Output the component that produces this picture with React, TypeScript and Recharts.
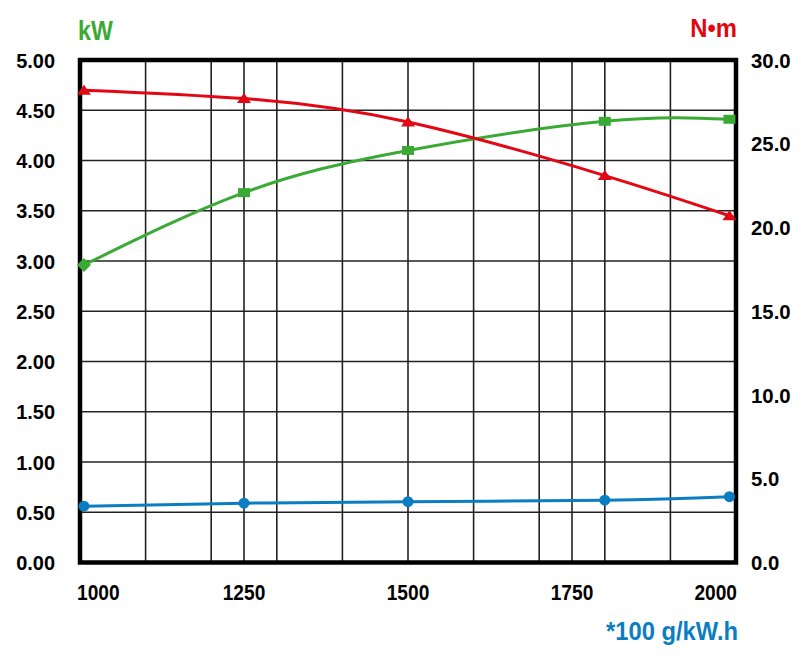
import React from "react";
import {
  LineChart,
  Line,
  XAxis,
  YAxis,
  CartesianGrid,
  ReferenceArea,
} from "recharts";

// ---- data ----
const rpm = [1006, 1250, 1500, 1800, 1990];
const powerKw = [2.96, 3.68, 4.1, 4.39, 4.41];
const torqueNm = [28.2, 27.7, 26.3, 23.1, 20.7];
const fuelConsumption = [0.56, 0.59, 0.605, 0.62, 0.655];

const xGridTicks = [1000, 1100, 1200, 1250, 1300, 1400, 1500, 1600, 1700, 1750, 1800, 1900, 2000];
const xLabelTicks = [1000, 1250, 1500, 1750, 2000];
const leftTicks = [0, 0.5, 1, 1.5, 2, 2.5, 3, 3.5, 4, 4.5, 5];
const rightTicks = [0, 5, 10, 15, 20, 25, 30];

const titleKw = "kW";
const titleNm = "N•m";
const titleFuel = "*100 g/kW.h";

const data = rpm.map((r, i) => ({
  rpm: r,
  power: powerKw[i],
  torque: torqueNm[i],
  fuel: fuelConsumption[i],
}));

const GREEN = "#3AAA35";
const RED = "#E30613";
const BLUE = "#0B7DC2";
const FONT = "'Liberation Sans', Arial, sans-serif";

const W = 790;
const H = 640;

type Anchor = "start" | "middle" | "end";

const SText = ({
  x,
  y,
  sx,
  anchor,
  size,
  fill,
  children,
}: {
  x: number;
  y: number;
  sx: number;
  anchor: Anchor;
  size: number;
  fill: string;
  children: React.ReactNode;
}) => (
  <text
    transform={`translate(${x},${y}) scale(${sx},1)`}
    x={0}
    y={0}
    textAnchor={anchor}
    fontFamily={FONT}
    fontWeight="bold"
    fontSize={size}
    fill={fill}
  >
    {children}
  </text>
);

const XTick = (props: any) => {
  const { x, y, payload } = props;
  const idx = xLabelTicks.indexOf(payload.value);
  if (idx < 0) return <g />;
  let anchor: Anchor = "middle";
  let tx = x;
  if (idx === 0) {
    anchor = "start";
    tx = x - 3;
  } else if (idx === xLabelTicks.length - 1) {
    anchor = "end";
    tx = x + 1;
  }
  return (
    <SText x={tx} y={y + 37.5} sx={0.85} anchor={anchor} size={22.5} fill="#000">
      {payload.value}
    </SText>
  );
};

const LeftTick = (props: any) => {
  const { x, y, payload } = props;
  return (
    <SText x={x} y={y + 7.5} sx={0.95} anchor="end" size={21} fill="#000">
      {Number(payload.value).toFixed(2)}
    </SText>
  );
};

const RightTick = (props: any) => {
  const { x, y, payload } = props;
  return (
    <SText x={x} y={y + 7.5} sx={0.97} anchor="start" size={21} fill="#000">
      {Number(payload.value).toFixed(1)}
    </SText>
  );
};

const TriangleDot = (props: any) => {
  const { cx, cy, index } = props;
  if (cx == null || cy == null) return <g key={index} />;
  return (
    <polygon
      key={index}
      points={`${cx},${cy - 5.5} ${cx - 7},${cy + 4.5} ${cx + 7},${cy + 4.5}`}
      fill={RED}
    />
  );
};

const GreenDot = (props: any) => {
  const { cx, cy, index } = props;
  if (cx == null || cy == null) return <g key={index} />;
  if (index === 0) {
    return (
      <polygon
        key={index}
        points={`${cx},${cy - 7} ${cx + 7},${cy} ${cx},${cy + 7} ${cx - 7},${cy}`}
        fill={GREEN}
      />
    );
  }
  return <rect key={index} x={cx - 6} y={cy - 4.5} width={12} height={9} fill={GREEN} />;
};

const BlueDot = (props: any) => {
  const { cx, cy, index } = props;
  if (cx == null || cy == null) return <g key={index} />;
  return <circle key={index} cx={cx} cy={cy} r={5.5} fill={BLUE} />;
};

export default function App() {
  return (
    <div style={{ position: "relative", width: W, height: H }}>
      <LineChart
        width={W}
        height={H}
        data={data}
        margin={{ top: 52, right: 0, bottom: 45.5, left: 0 }}
      >
        <CartesianGrid yAxisId="left" stroke="#222" strokeWidth={1.6} />
        <XAxis
          dataKey="rpm"
          type="number"
          domain={[1000, 2000]}
          ticks={xGridTicks}
          interval={0}
          axisLine={false}
          tickLine={false}
          tickSize={0}
          tickMargin={0}
          height={40}
          tick={<XTick />}
        />
        <YAxis
          yAxisId="left"
          domain={[0, 5]}
          ticks={leftTicks}
          interval={0}
          axisLine={false}
          tickLine={false}
          tickSize={0}
          tickMargin={25}
          width={72}
          tick={<LeftTick />}
        />
        <YAxis
          yAxisId="right"
          orientation="right"
          domain={[0, 30]}
          ticks={rightTicks}
          interval={0}
          axisLine={false}
          tickLine={false}
          tickSize={0}
          tickMargin={15}
          width={62}
          tick={<RightTick />}
        />
        <ReferenceArea
          yAxisId="left"
          x1={1000}
          x2={2000}
          y1={0}
          y2={5}
          fill="none"
          fillOpacity={0}
          stroke="#000"
          strokeWidth={4.5}
          ifOverflow="visible"
        />
        <Line
          yAxisId="left"
          type="natural"
          dataKey="fuel"
          stroke={BLUE}
          strokeWidth={3}
          dot={<BlueDot />}
          isAnimationActive={false}
        />
        <Line
          yAxisId="left"
          type="natural"
          dataKey="power"
          stroke={GREEN}
          strokeWidth={3}
          dot={<GreenDot />}
          isAnimationActive={false}
        />
        <Line
          yAxisId="right"
          type="natural"
          dataKey="torque"
          stroke={RED}
          strokeWidth={3}
          dot={<TriangleDot />}
          isAnimationActive={false}
        />
      </LineChart>
      <svg
        width={W}
        height={H}
        style={{ position: "absolute", left: 0, top: 0, pointerEvents: "none" }}
      >
        <SText x={70} y={32} sx={0.83} anchor="start" size={28} fill={GREEN}>
          {titleKw}
        </SText>
        <SText x={729} y={29} sx={0.9} anchor="end" size={26.5} fill={RED}>
          {titleNm}
        </SText>
        <SText x={730} y={632} sx={0.95} anchor="end" size={25} fill={BLUE}>
          {titleFuel}
        </SText>
      </svg>
    </div>
  );
}
